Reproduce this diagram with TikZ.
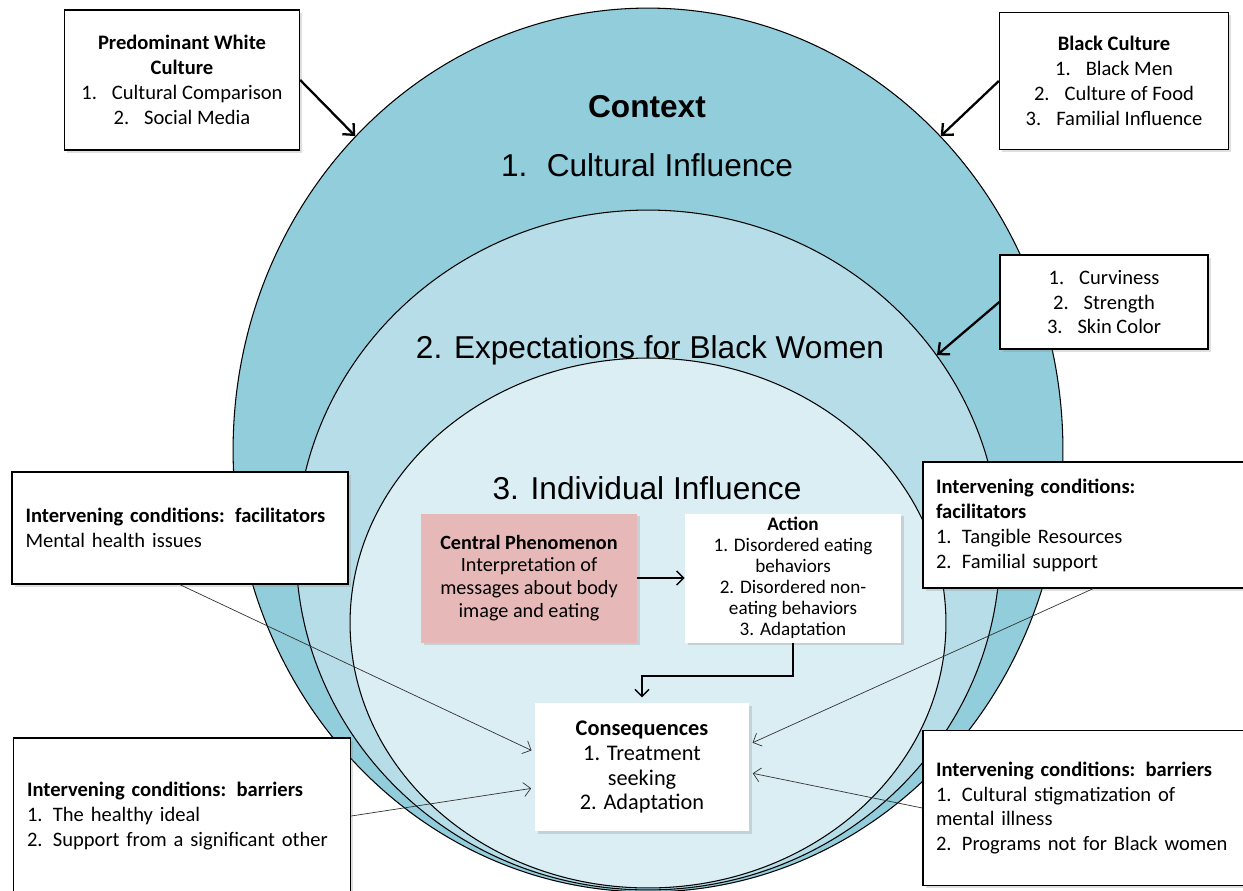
\documentclass[tikz,border=0pt]{standalone}
\usepackage{fontspec}
\setmainfont{Carlito}
\newfontfamily\arialfont{Liberation Sans}
\usetikzlibrary{shapes.geometric,shadows,arrows.meta}

\definecolor{ringone}{HTML}{92CDDC}
\definecolor{ringtwo}{HTML}{B7DEE8}
\definecolor{ringthree}{HTML}{DAEEF3}
\definecolor{phenom}{HTML}{E6B9B8}

\tikzset{
  ring/.style={ellipse,draw=black,line width=0.6pt,inner sep=0pt},
  ringlabel/.style={font=\arialfont\fontsize{18}{21}\selectfont,inner sep=0pt},
  boxshadow/.style={drop shadow={opacity=0.25,shadow xshift=1.5pt,shadow yshift=-1.5pt}},
  sidebox/.style={draw=black,line width=0.8pt,fill=white,boxshadow,
    font=\fontsize{11.7}{14.2}\selectfont,align=center,inner sep=0pt},
  condbox/.style={sidebox,align=left,inner xsep=0.27cm,inner ysep=0pt},
  flowbox/.style={fill=white,boxshadow,align=center,inner sep=0pt},
  bigarrow/.style={-{Straight Barb[length=5pt,width=9pt]},line width=1.3pt},
  flowarrow/.style={-{Straight Barb[length=4pt,width=8pt]},line width=0.8pt},
  thinarrow/.style={-{Straight Barb[length=4pt,width=8pt]},line width=0.4pt,black!80,shorten >=2pt}
}

\begin{document}
\begin{tikzpicture}[x=0.02cm,y=-0.02cm]
\useasboundingbox (0,0) rectangle (1243,890);
\clip (0,0) rectangle (1243,890);

% nested rings
\node[ring,fill=ringone,minimum width=16.6cm,minimum height=17.68cm] (c1) at (648,450) {};
\node[ring,fill=ringtwo,minimum width=14.08cm,minimum height=13.6cm] (c2) at (648,550) {};
\node[ring,fill=ringthree,minimum width=11.92cm,minimum height=10.6cm] (c3) at (648,623) {};

\node[ringlabel,font=\arialfont\bfseries\fontsize{18}{21}\selectfont] (ctx) at (647,107) {Context};
\node[ringlabel] (cult) at (647,165) {1.\hspace{11pt}Cultural Influence};
\node[ringlabel] (expect) at (650,350) {2. Expectations for Black Women};
\node[ringlabel] (indiv) at (647,488) {3. Individual Influence};

% outer influences
\node[sidebox,minimum width=4.7cm,minimum height=2.8cm] (pwc) at (182,80)
  {\textbf{Predominant White}\\\textbf{Culture}\\1.\hspace{8.5pt}Cultural Comparison\\2.\hspace{8.5pt}Social Media};
\node[sidebox,minimum width=4.58cm,minimum height=2.74cm] (black) at (1114,81)
  {\textbf{Black Culture}\\1.\hspace{8.5pt}Black Men\\2.\hspace{8.5pt}Culture of Food\\3.\hspace{8.5pt}Familial Influence};
\node[sidebox,minimum width=4.16cm,minimum height=1.88cm] (curvy) at (1104,302)
  {1.\hspace{8.5pt}Curviness\\2.\hspace{8.5pt}Strength\\3.\hspace{8.5pt}Skin Color};

% intervening conditions
\node[condbox,text width=6.18cm,minimum height=2.24cm] (lfac) at (180,528)
  {\textbf{Intervening conditions: facilitators}\\Mental health issues};
\node[condbox,text width=6.2cm,minimum height=3.12cm] (lbar) at (182,816)
  {\textbf{Intervening conditions: barriers}\\1. The healthy ideal\\2. Support from a significant other};
\node[condbox,text width=6.28cm,minimum height=2.52cm,inner xsep=0.26cm] (rfac) at (1093,525)
  {\textbf{Intervening conditions:}\\\textbf{facilitators}\\1. Tangible Resources\\2. Familial support};
\node[condbox,text width=6.28cm,minimum height=3.1cm,inner xsep=0.26cm] (rbar) at (1093,808)
  {\textbf{Intervening conditions: barriers}\\1. Cultural stigmatization of\\mental illness\\2. Programs not for Black women};

% core process
\node[flowbox,fill=phenom,minimum width=4.32cm,minimum height=2.58cm,
  font=\fontsize{11.5}{13}\selectfont] (cp) at (529,578)
  {\textbf{Central Phenomenon}\\Interpretation of\\messages about body\\image and eating};
\node[flowbox,minimum width=4.32cm,minimum height=2.58cm,
  font=\fontsize{10.9}{11.9}\selectfont] (act) at (793,578)
  {\textbf{Action}\\1. Disordered eating\\behaviors\\2. Disordered non-\\eating behaviors\\3. Adaptation};
\node[flowbox,minimum width=4.28cm,minimum height=2.56cm,
  font=\fontsize{12.7}{14.2}\selectfont] (cons) at (642,767)
  {\textbf{Consequences}\\1. Treatment\\seeking\\2. Adaptation};

\draw[flowarrow] (cp.east) -- (act.west);
\draw[flowarrow,shorten >=3pt] (act.south) -- ++(0,33) -| (cons.north);

\foreach \from/\to in {pwc.east/c1.133,black.west/c1.47,curvy.west/c2.34}
  \draw[bigarrow] (\from) -- (\to);

\foreach \from/\to in {lfac.south/cons.172,lbar.east/cons.191,rfac.south/cons.12,rbar.west/cons.-3}
  \draw[thinarrow] (\from) -- (\to);
\end{tikzpicture}
\end{document}
